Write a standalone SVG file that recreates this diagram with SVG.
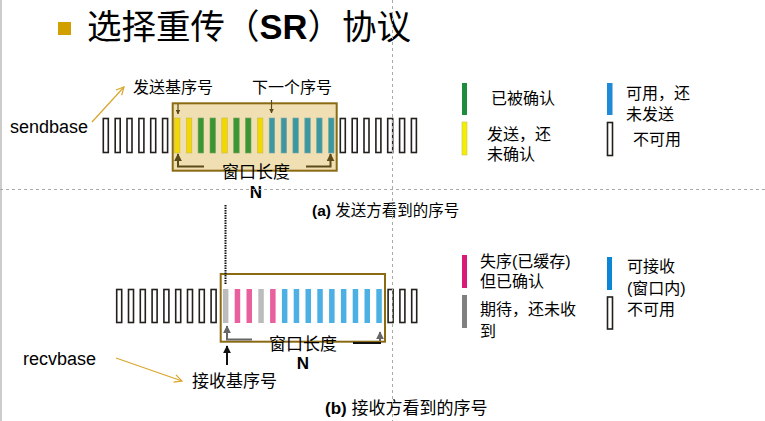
<svg xmlns="http://www.w3.org/2000/svg" width="765" height="421" viewBox="0 0 765 421">
<style>
.e{fill:#fff;stroke:#231f1c;stroke-width:1.6}
.y{fill:#f0d800;stroke:#c9b860;stroke-width:.6}
.g{fill:#3a9632;stroke:#7aa060;stroke-width:.6}
.t{fill:#3c97a0;stroke:#7aa8a8;stroke-width:.6}
.p{fill:#e8609e}
.q{fill:#bcbcbc}
.b{fill:#4cb0e4}
.cj{font-family:"Liberation Sans","Noto Sans CJK SC",sans-serif;fill:#000}
.lg{font-size:16px}
.grid{stroke:#aaa;stroke-width:1;stroke-dasharray:3,3;fill:none}
</style>
<defs>
<marker id="ao" viewBox="0 0 10 10" refX="9" refY="5" markerWidth="8" markerHeight="8" orient="auto"><path d="M1,1 L9,5 L1,9" fill="none" stroke="#d9a52a" stroke-width="1.2"/></marker>
<marker id="abr" viewBox="0 0 10 10" refX="9" refY="5" markerWidth="4" markerHeight="4" orient="auto"><path d="M0,0 L10,5 L0,10z" fill="#5c4a18"/></marker>
<marker id="agr" viewBox="0 0 10 10" refX="9" refY="5" markerWidth="4" markerHeight="4" orient="auto"><path d="M0,0 L10,5 L0,10z" fill="#666"/></marker>
<marker id="abk" viewBox="0 0 10 10" refX="9" refY="5" markerWidth="4" markerHeight="4" orient="auto"><path d="M0,0 L10,5 L0,10z" fill="#111"/></marker>
</defs>
<rect width="765" height="421" fill="#fff"/>
<line x1="1" y1="0" x2="1" y2="421" stroke="#ccc" stroke-width="2"/>

<g id="title">
<rect x="58" y="22" width="13" height="13" fill="#d1a000"/>
<text x="87" y="39" class="cj" font-size="34.5">选择重传（<tspan font-weight="bold">SR</tspan>）协议</text>
</g>

<g id="sender">
<rect id="send-window" x="172.7" y="103.3" width="164" height="67.4" fill="#efdfb2" stroke="#8b6a14" stroke-width="2"/>
<rect class="e" x="103.3" y="118.5" width="5" height="34"/>
<rect class="e" x="115.2" y="118.5" width="5" height="34"/>
<rect class="e" x="127" y="118.5" width="5" height="34"/>
<rect class="e" x="138.9" y="118.5" width="5" height="34"/>
<rect class="e" x="150.7" y="118.5" width="5" height="34"/>
<rect class="e" x="162.6" y="118.5" width="5" height="34"/>
<rect class="y" x="174.4" y="118" width="5.5" height="35"/>
<rect class="y" x="186.3" y="118" width="5.5" height="35"/>
<rect class="g" x="198.1" y="118" width="5.5" height="35"/>
<rect class="g" x="210" y="118" width="5.5" height="35"/>
<rect class="y" x="221.8" y="118" width="5.5" height="35"/>
<rect class="g" x="233.7" y="118" width="5.5" height="35"/>
<rect class="g" x="245.5" y="118" width="5.5" height="35"/>
<rect class="y" x="257.4" y="118" width="5.5" height="35"/>
<rect class="t" x="269.2" y="118" width="5.5" height="35"/>
<rect class="t" x="281.1" y="118" width="5.5" height="35"/>
<rect class="t" x="292.9" y="118" width="5.5" height="35"/>
<rect class="t" x="304.8" y="118" width="5.5" height="35"/>
<rect class="t" x="316.6" y="118" width="5.5" height="35"/>
<rect class="t" x="328.5" y="118" width="5.5" height="35"/>
<rect class="e" x="340.3" y="118.5" width="5" height="34"/>
<rect class="e" x="352.2" y="118.5" width="5" height="34"/>
<rect class="e" x="364" y="118.5" width="5" height="34"/>
<rect class="e" x="375.9" y="118.5" width="5" height="34"/>
<rect class="e" x="387.7" y="118.5" width="5" height="34"/>
<rect class="e" x="399.6" y="118.5" width="5" height="34"/>
<rect class="e" x="411.4" y="118.5" width="5" height="34"/>
<text x="10" y="133" class="cj" font-size="18">sendbase</text>
<text x="133" y="93" class="cj" font-size="16">发送基序号</text>
<text x="252" y="93" class="cj" font-size="16">下一个序号</text>
<text x="256" y="178" class="cj" font-size="17" text-anchor="middle">窗口长度</text>
<text x="256" y="198" class="cj" font-size="17" font-weight="bold" text-anchor="middle">N</text>
<text x="312" y="216" class="cj" font-size="15.5"><tspan font-weight="bold">(a)</tspan> 发送方看到的序号</text>
</g>

<g id="receiver">
<rect class="e" x="116.7" y="289.5" width="5" height="33"/>
<rect class="e" x="128.5" y="289.5" width="5" height="33"/>
<rect class="e" x="140.3" y="289.5" width="5" height="33"/>
<rect class="e" x="152.1" y="289.5" width="5" height="33"/>
<rect class="e" x="163.9" y="289.5" width="5" height="33"/>
<rect class="e" x="175.7" y="289.5" width="5" height="33"/>
<rect class="e" x="187.5" y="289.5" width="5" height="33"/>
<rect class="e" x="199.3" y="289.5" width="5" height="33"/>
<rect class="e" x="211.1" y="289.5" width="5" height="33"/>
<rect class="q" x="222.9" y="289" width="5.5" height="34"/>
<rect class="p" x="234.7" y="289" width="5.5" height="34"/>
<rect class="p" x="246.5" y="289" width="5.5" height="34"/>
<rect class="q" x="258.3" y="289" width="5.5" height="34"/>
<rect class="p" x="270.1" y="289" width="5.5" height="34"/>
<rect class="b" x="281.9" y="289" width="5.5" height="34"/>
<rect class="b" x="293.7" y="289" width="5.5" height="34"/>
<rect class="b" x="305.5" y="289" width="5.5" height="34"/>
<rect class="b" x="317.3" y="289" width="5.5" height="34"/>
<rect class="b" x="329.1" y="289" width="5.5" height="34"/>
<rect class="b" x="340.9" y="289" width="5.5" height="34"/>
<rect class="b" x="352.7" y="289" width="5.5" height="34"/>
<rect class="b" x="364.5" y="289" width="5.5" height="34"/>
<rect class="b" x="376.3" y="289" width="5.5" height="34"/>
<rect class="e" x="388.1" y="289.5" width="5" height="33"/>
<rect class="e" x="399.9" y="289.5" width="5" height="33"/>
<rect class="e" x="411.7" y="289.5" width="5" height="33"/>
<rect id="recv-window" x="220.7" y="274" width="164.3" height="67.7" fill="none" stroke="#8b6a14" stroke-width="2"/>
<text x="23" y="365" class="cj" font-size="18">recvbase</text>
<text x="192" y="387" class="cj" font-size="17">接收基序号</text>
<text x="303" y="350" class="cj" font-size="17" text-anchor="middle">窗口长度</text>
<text x="303" y="369" class="cj" font-size="17" font-weight="bold" text-anchor="middle">N</text>
<text x="325" y="414" class="cj" font-size="17"><tspan font-weight="bold">(b)</tspan> 接收方看到的序号</text>
</g>

<g id="legend-send" class="cj lg">
<rect x="462" y="83" width="5" height="32" fill="#1e8c3c"/>
<text x="491" y="104">已被确认</text>
<rect x="462" y="122" width="5" height="33" fill="#f2f000" stroke="#c8c060" stroke-width=".6"/>
<text x="487" y="140">发送，还</text>
<text x="487" y="160">未确认</text>
<rect x="607" y="83" width="5.5" height="32" fill="#1e8ad8"/>
<text x="626" y="99">可用，还</text>
<text x="626" y="120">未发送</text>
<rect class="e" x="607.5" y="122.5" width="5" height="33"/>
<text x="633" y="145">不可用</text>
</g>

<g id="legend-recv" class="cj lg">
<rect x="462" y="255" width="5" height="33" fill="#d81b78"/>
<text x="480" y="267">失序(已缓存)</text>
<text x="480" y="287">但已确认</text>
<rect x="462" y="295" width="5" height="33" fill="#808080"/>
<text x="480" y="315">期待，还未收</text>
<text x="480" y="337">到</text>
<rect x="607" y="257" width="5" height="33" fill="#0a86d4"/>
<text x="627" y="272">可接收</text>
<text x="627" y="294">(窗口内)</text>
<rect class="e" x="607.5" y="297" width="5" height="32"/>
<text x="627" y="315">不可用</text>
</g>

<g id="connectors">
<line x1="92" y1="122" x2="124" y2="87" stroke="#d9a52a" stroke-width="1.2" marker-end="url(#ao)"/>
<line x1="116" y1="358" x2="182" y2="381" stroke="#d9a52a" stroke-width="1.2" marker-end="url(#ao)"/>
<line x1="178" y1="104" x2="178" y2="114" stroke="#5c4a18" stroke-width="1.2" marker-end="url(#abr)"/>
<line x1="271.5" y1="100" x2="271.5" y2="113" stroke="#5c4a18" stroke-width="1.2" marker-end="url(#abr)"/>
<path d="M204,166.5 H178 V154" fill="none" stroke="#5c4a18" stroke-width="2" marker-end="url(#abr)"/>
<path d="M306,166.5 H330.5 V154" fill="none" stroke="#5c4a18" stroke-width="2" marker-end="url(#abr)"/>
<path d="M252,339.5 H227 V326" fill="none" stroke="#666" stroke-width="2" marker-end="url(#agr)"/>
<line x1="353" y1="343" x2="381" y2="343" stroke="#111" stroke-width="2"/>
<line x1="380" y1="341" x2="380" y2="332" stroke="#666" stroke-width="2" marker-end="url(#agr)"/>
<line x1="227" y1="365" x2="227" y2="346" stroke="#111" stroke-width="2" marker-end="url(#abk)"/>
<line x1="225.5" y1="205" x2="225.5" y2="284" stroke="#111" stroke-width="2" stroke-dasharray="1.5,1"/>
</g>

<g id="grid">
<line class="grid" x1="0" y1="189.5" x2="765" y2="189.5"/>
<line class="grid" x1="392.5" y1="0" x2="392.5" y2="421"/>
</g>
</svg>
